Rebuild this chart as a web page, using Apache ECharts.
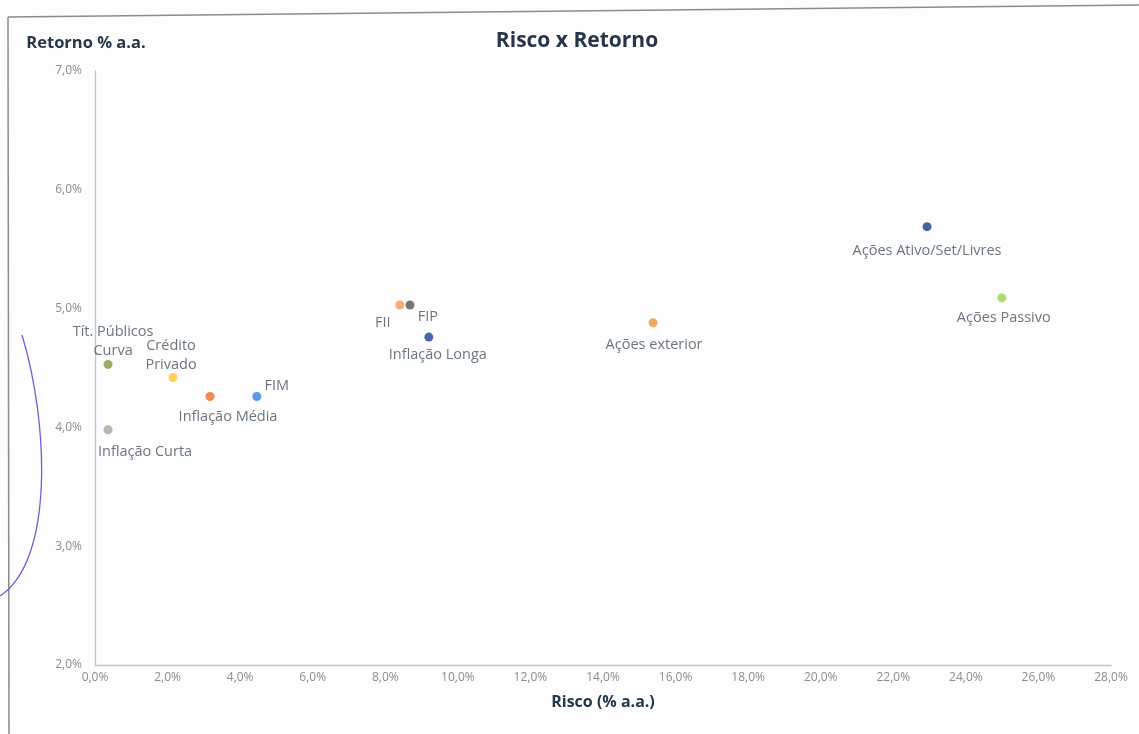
<!DOCTYPE html>
<html>
<head>
<meta charset="utf-8">
<script src="https://cdn.jsdelivr.net/npm/echarts@6/dist/echarts.min.js"></script>
<style>
html,body{margin:0;padding:0;background:#fdfdfd;}
#chart{width:1139px;height:734px;}
</style>
</head>
<body>
<div id="chart"></div>
<script>
// ---- data ----
const names = ['Tít. Públicos\nCurva','Inflação Curta','Crédito\nPrivado','Inflação Média','FIM','FII','FIP','Inflação Longa','Ações exterior','Ações Ativo/Set/Livres','Ações Passivo'];
const risco   = [0.36, 0.36, 2.15, 3.17, 4.46, 8.40, 8.68, 9.20, 15.38, 22.93, 24.99];
const retorno = [4.53, 3.98, 4.42, 4.26, 4.26, 5.03, 5.03, 4.76, 4.88, 5.69, 5.09];
const xTickLabels = ['0,0%','2,0%','4,0%','6,0%','8,0%','10,0%','12,0%','14,0%','16,0%','18,0%','20,0%','22,0%','24,0%','26,0%','28,0%'];
const yTickLabels = ['2,0%','3,0%','4,0%','5,0%','6,0%','7,0%'];

// ---- styling (kept apart from data) ----
const colors = ['#7a9a3a','#a3a89a','#ffc72c','#f26a21','#2f7fe0','#f5955a','#555555','#1e3f9a','#e9953b','#1f3a8a','#9ad14a'];
const labelOffsets = [[5,-23],[37,22],[-2,-22],[18,20],[20,-11],[-17,18],[18,12],[9,18],[1,22],[0,24],[2,20]];

const labelColor = '#46525f';
const font = 'Open Sans, sans-serif';

const data = names.map((n,i)=>({
  name:n,
  value:[risco[i], retorno[i]],
  itemStyle:{color:colors[i]},
  label:{
    show:true, position:'inside', offset:labelOffsets[i],
    formatter:n, color:labelColor, fontFamily:font, fontSize:14.5,
    lineHeight:19, align:'center', verticalAlign:'middle',
    textBorderWidth:0
  }
}));

const chart = echarts.init(document.getElementById('chart'));
chart.setOption({
  backgroundColor:'#fdfdfd',
  animation:false,
  title:{
    text:'Risco x Retorno', left:572, top:26, textAlign:'center',
    textStyle:{fontFamily:font, fontSize:21, fontWeight:'bold', color:'#26364a'}
  },
  grid:{left:95, right:28, top:71, bottom:69, containLabel:false},
  xAxis:{
    type:'value', min:0, max:28, interval:2,
    name:'Risco (% a.a.)', nameLocation:'middle', nameGap:29,
    nameTextStyle:{fontFamily:font, fontSize:16, fontWeight:'bold', color:'#26364a'},
    axisLine:{show:true, lineStyle:{color:'#b7c9d6', width:1.3}},
    axisTick:{show:false},
    splitLine:{show:false},
    axisLabel:{
      formatter:(v)=>xTickLabels[Math.round(v/2)], margin:7,
      fontFamily:font, fontSize:12, color:'#8a8d92'
    }
  },
  yAxis:{
    type:'value', min:2, max:7, interval:1,
    name:'Retorno % a.a.', nameLocation:'end', nameGap:19,
    nameTextStyle:{fontFamily:font, fontSize:16.5, fontWeight:'bold', color:'#26364a', align:'center', padding:[0,18,0,0]},
    axisLine:{show:true, lineStyle:{color:'#b7c9d6', width:1.3}},
    axisTick:{show:false},
    splitLine:{show:false},
    axisLabel:{
      formatter:(v)=>yTickLabels[Math.round(v-2)], margin:13,
      fontFamily:font, fontSize:12, color:'#8a8d92'
    }
  },
  series:[{
    type:'scatter', symbolSize:9, data:data,
    emphasis:{disabled:true}
  }],
  graphic:[
    {type:'polyline', shape:{points:[[8,17],[1139,5]]}, style:{stroke:'#8c8c8c', lineWidth:1.5, fill:null}, silent:true},
    {type:'line', shape:{x1:8,y1:17,x2:9,y2:734}, style:{stroke:'#8c8c8c', lineWidth:1.5}, silent:true},
    {type:'bezierCurve', shape:{x1:22,y1:335,cpx1:48,cpy1:420,cpx2:55,cpy2:560,x2:0,y2:596}, style:{stroke:'#6a63d6', lineWidth:1.3, fill:null}, silent:true}
  ]
});
</script>
</body>
</html>
